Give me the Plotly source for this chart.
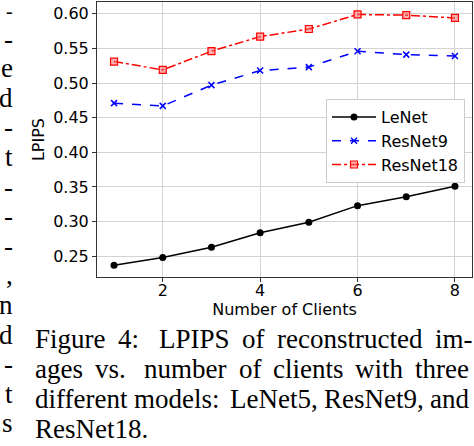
import plotly.graph_objects as go

clients = [1, 2, 3, 4, 5, 6, 7, 8]
lenet = [0.237, 0.248, 0.263, 0.284, 0.299, 0.323, 0.336, 0.351]
resnet9 = [0.471, 0.467, 0.497, 0.518, 0.523, 0.546, 0.541, 0.539]
resnet18 = [0.531, 0.519, 0.546, 0.567, 0.578, 0.599, 0.598, 0.594]

x_ticks = [2, 4, 6, 8]
y_ticks = [0.25, 0.30, 0.35, 0.40, 0.45, 0.50, 0.55, 0.60]

caption = [
    "Figure 4: LPIPS of reconstructed im-",
    "ages vs. number of clients with three",
    "different models: LeNet5, ResNet9, and",
    "ResNet18.",
]
# ends of the lines of the neighbouring column, cut by the crop
edge_chars = ["-", "-", "e", "d", "-", "t", "-", "-", "-", ",", "n", "d", "-", "t", "s"]

W, H = 474, 446
L, R, T, B = 97, 2, 2, 169
pw, ph = W - L - R, H - T - B


def px(x):
    return (x - L) / pw


def py(y):
    return 1 - (y - T) / ph


# Times advance widths (1/1000 em), Liberation Serif shares them
times_w = {" ": 250, "F": 556, "i": 278, "g": 500, "u": 500, "r": 333, "e": 444, "4": 500,
           ":": 278, "L": 611, "P": 556, "I": 333, "S": 556, "o": 500, "f": 333, "c": 444,
           "n": 500, "s": 389, "t": 278, "d": 500, "m": 778, "-": 333, "a": 444, "v": 500,
           ".": 250, "b": 500, "l": 278, "w": 722, "h": 500, "N": 722, "R": 667, "5": 500,
           "9": 500, ",": 250, "1": 500, "8": 500}


def text_w(s, size):
    return sum(times_w.get(c, 500) for c in s) * size / 1000


def justify(words, x0, x1, size):
    # TeX-like: a bit more stretch after ':' and '.'
    widths = [text_w(w, size) for w in words]
    weights = [1.6 if w[-1] in ":." else 1.0 for w in words[:-1]]
    free = (x1 - x0) - sum(widths)
    unit = free / sum(weights)
    xs, x = [], x0
    for i, w in enumerate(widths):
        xs.append(x)
        if i < len(weights):
            x += w + unit * weights[i]
    return xs


sans = "DejaVu Sans"
serif = "Liberation Serif"
cap_size = 27

fig = go.Figure()
fig.add_trace(go.Scatter(x=clients, y=lenet, name="LeNet", mode="lines+markers",
                         line=dict(color="black", width=1.5),
                         marker=dict(symbol="circle", size=7, color="black")))
fig.add_trace(go.Scatter(x=clients, y=resnet9, name="ResNet9", mode="lines+markers",
                         line=dict(color="blue", width=1.5, dash="dash"),
                         marker=dict(symbol="x-thin", size=6, color="blue",
                                     line=dict(color="blue", width=1.5))))
fig.add_trace(go.Scatter(x=clients, y=resnet18, name="ResNet18", mode="lines+markers",
                         line=dict(color="red", width=1.5, dash="dashdot"),
                         marker=dict(symbol="square", size=7, color="rgba(255,110,110,0.55)",
                                     line=dict(color="red", width=1.2))))

ann = []
right_edges = [472, 468, 468, None]
for i, line in enumerate(caption):
    yc = py(338.5 + 30.3 * i)
    words = line.split(" ")
    if right_edges[i] is None:
        xs = [34]
        words = [line]
    else:
        xs = justify(words, 34, right_edges[i], cap_size)
    for w, x in zip(words, xs):
        ann.append(dict(text=w, x=px(x), y=yc, xref="paper", yref="paper",
                        xanchor="left", yanchor="middle", showarrow=False, borderpad=0,
                        font=dict(family=serif, size=cap_size, color="black")))
for i, ch in enumerate(edge_chars):
    # the top one would poke out of the page, so it is drawn a little smaller
    size = 20 if i == 0 else cap_size
    yc = 11 if i == 0 else 9 + 29.6 * i
    ann.append(dict(text=ch, x=px(14), y=py(yc), xref="paper", yref="paper",
                    xanchor="right", yanchor="middle", showarrow=False, borderpad=0,
                    font=dict(family=serif, size=size, color="black")))

axis_common = dict(showline=True, mirror=True, linecolor="#333333", linewidth=1,
                   ticks="outside", ticklen=4, tickcolor="#333333", automargin=False,
                   showgrid=True, gridcolor="#d3d3d3", gridwidth=1, zeroline=False,
                   tickfont=dict(family=sans, size=16, color="black"))

fig.update_layout(
    width=W, height=H,
    margin=dict(l=L, r=R, t=T, b=B),
    paper_bgcolor="white", plot_bgcolor="white",
    showlegend=True,
    legend=dict(x=px(465), y=py(99), xanchor="right", yanchor="top", itemwidth=44,
                bgcolor="white", bordercolor="#cccccc", borderwidth=1,
                font=dict(family=sans, size=16, color="black")),
    xaxis=dict(range=[0.65, 8.35], tickvals=x_ticks, ticklabelstandoff=-5,
               title=dict(text="Number of Clients", standoff=0,
                          font=dict(family=sans, size=16, color="black")),
               **axis_common),
    yaxis=dict(range=[0.22, 0.617], tickvals=y_ticks, tickformat=".2f",
               title=dict(text="LPIPS", standoff=4,
                          font=dict(family=sans, size=16, color="black")),
               **axis_common),
    annotations=ann,
)

fig.write_html("out.html", config={"displayModeBar": False},
               post_script="document.body.style.margin='0';")
